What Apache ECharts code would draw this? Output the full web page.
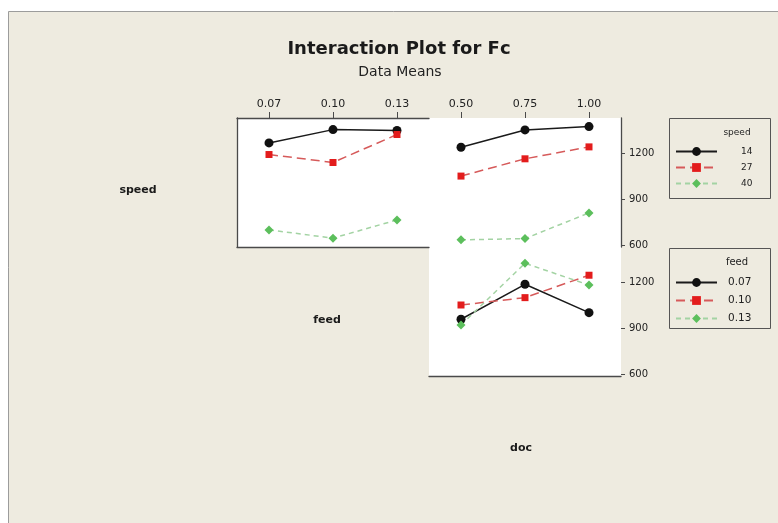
<!DOCTYPE html>
<html>
<head>
<meta charset="utf-8">
<title>Interaction Plot for Fc</title>
<script src="https://cdn.jsdelivr.net/npm/echarts@6/dist/echarts.min.js"></script>
<style>
  html, body { margin: 0; padding: 0; background: #fff; }
  #chart { width: 778px; height: 523px; }
</style>
</head>
<body>
<div id="chart"></div>
<script>
// factor levels
const feedLevels = ['0.07', '0.10', '0.13'];
const docLevels = ['0.50', '0.75', '1.00'];
const speedLevels = ['14', '27', '40'];
const yTicks = [600, 900, 1200];

// Fc means, speed x feed
const fcSpeed14ByFeed = [1269, 1356, 1350];
const fcSpeed27ByFeed = [1193, 1141, 1324];
const fcSpeed40ByFeed = [700, 646, 765];

// Fc means, speed x doc
const fcSpeed14ByDoc = [1241, 1354, 1376];
const fcSpeed27ByDoc = [1052, 1165, 1243];
const fcSpeed40ByDoc = [635, 643, 811];

// Fc means, feed x doc
const fcFeed007ByDoc = [961, 1189, 1004];
const fcFeed010ByDoc = [1054, 1102, 1248];
const fcFeed013ByDoc = [924, 1326, 1184];

const FONT = '"DejaVu Sans", sans-serif';
const AXIS_COLOR = '#4a4a4a';

// one look per level: black solid circle, red dashed square, green dashed diamond
const looks = [
  { line: '#1a1a1a', mark: '#111', type: 'solid', symbol: 'circle', size: 9 },
  { line: '#d65a5a', mark: '#e31c1c', type: [9, 5], symbol: 'rect', size: 7 },
  { line: '#a3d3a3', mark: '#5cbf5c', type: [5, 4], symbol: 'diamond', size: 9 }
];

function makeSeries(name, data, look, xIdx, yIdx) {
  return {
    name: name,
    type: 'line',
    xAxisIndex: xIdx,
    yAxisIndex: yIdx,
    data: data,
    symbol: look.symbol,
    symbolSize: look.size,
    lineStyle: { color: look.line, width: 1.5, type: look.type },
    itemStyle: { color: look.mark },
    emphasis: { disabled: true }
  };
}

const chart = echarts.init(document.getElementById('chart'));

const yRange = { min: 588, max: 1432 };
const plainNumber = function(v) { return String(v); };

const option = {
  backgroundColor: '#ffffff',
  animation: false,
  graphic: [
    {
      type: 'rect', z: -10, silent: true,
      shape: { x: 8.5, y: 11.5, width: 800, height: 600 },
      style: { fill: '#eeebe0', stroke: '#9c9c9c', lineWidth: 1 }
    },
    {
      type: 'text', x: 399, y: 49,
      style: { text: 'Interaction Plot for Fc', font: 'bold 18px ' + FONT, fill: '#1a1a1a', textAlign: 'center', textVerticalAlign: 'middle' }
    },
    {
      type: 'text', x: 400, y: 72,
      style: { text: 'Data Means', font: '14px ' + FONT, fill: '#222', textAlign: 'center', textVerticalAlign: 'middle' }
    },
    {
      type: 'text', x: 138, y: 190,
      style: { text: 'speed', font: 'bold 11px ' + FONT, fill: '#1a1a1a', textAlign: 'center', textVerticalAlign: 'middle' }
    },
    {
      type: 'text', x: 327, y: 320,
      style: { text: 'feed', font: 'bold 11px ' + FONT, fill: '#1a1a1a', textAlign: 'center', textVerticalAlign: 'middle' }
    },
    {
      type: 'text', x: 521, y: 448,
      style: { text: 'doc', font: 'bold 11px ' + FONT, fill: '#1a1a1a', textAlign: 'center', textVerticalAlign: 'middle' }
    },
    // legend frames and headings
    {
      type: 'rect', silent: true,
      shape: { x: 669.5, y: 118.5, width: 101, height: 80 },
      style: { fill: '#eeebe0', stroke: '#555', lineWidth: 1 }
    },
    {
      type: 'text', x: 737, y: 133,
      style: { text: 'speed', font: '9px ' + FONT, fill: '#222', textAlign: 'center', textVerticalAlign: 'middle' }
    },
    {
      type: 'rect', silent: true,
      shape: { x: 669.5, y: 248.5, width: 101, height: 80 },
      style: { fill: '#eeebe0', stroke: '#555', lineWidth: 1 }
    },
    {
      type: 'text', x: 737, y: 262,
      style: { text: 'feed', font: '10px ' + FONT, fill: '#222', textAlign: 'center', textVerticalAlign: 'middle' }
    }
  ],
  legend: [
    {
      data: speedLevels,
      orient: 'vertical',
      left: 675, top: 147,
      padding: 0,
      itemWidth: 41, itemHeight: 11, itemGap: 7,
      selectedMode: false,
      textStyle: { fontFamily: FONT, fontSize: 9, color: '#222', padding: [0, 0, 0, 19] }
    },
    {
      data: feedLevels,
      orient: 'vertical',
      left: 675, top: 277,
      padding: 0,
      itemWidth: 41, itemHeight: 11, itemGap: 7,
      selectedMode: false,
      textStyle: { fontFamily: FONT, fontSize: 10.5, color: '#222', padding: [0, 0, 0, 6] }
    }
  ],
  grid: [
    { left: 237, top: 118, width: 192, height: 129, show: true, backgroundColor: '#fff', borderWidth: 0 },
    { left: 429, top: 118, width: 192, height: 129, show: true, backgroundColor: '#fff', borderWidth: 0 },
    { left: 429, top: 247, width: 192, height: 129.5, show: true, backgroundColor: '#fff', borderWidth: 0 }
  ],
  xAxis: [
    {
      gridIndex: 0, type: 'category', position: 'top', data: feedLevels,
      axisLine: { show: true, onZero: false, lineStyle: { color: AXIS_COLOR, width: 1.3 } },
      axisTick: { show: true, alignWithLabel: true, length: 6, lineStyle: { color: AXIS_COLOR } },
      axisLabel: { margin: 8, fontSize: 11, fontFamily: FONT, color: '#222' },
      splitLine: { show: false }
    },
    {
      gridIndex: 0, type: 'category', position: 'bottom', data: feedLevels,
      axisLine: { show: true, onZero: false, lineStyle: { color: AXIS_COLOR, width: 1.3 } },
      axisTick: { show: false }, axisLabel: { show: false }, splitLine: { show: false }
    },
    {
      gridIndex: 1, type: 'category', position: 'top', data: docLevels,
      axisLine: { show: false, onZero: false },
      axisTick: { show: true, alignWithLabel: true, length: 6, lineStyle: { color: AXIS_COLOR } },
      axisLabel: { margin: 8, fontSize: 11, fontFamily: FONT, color: '#222' },
      splitLine: { show: false }
    },
    {
      gridIndex: 2, type: 'category', position: 'bottom', data: docLevels,
      axisLine: { show: true, onZero: false, lineStyle: { color: AXIS_COLOR, width: 1.3 } },
      axisTick: { show: false }, axisLabel: { show: false }, splitLine: { show: false }
    }
  ],
  yAxis: [
    {
      gridIndex: 0, type: 'value', position: 'left', min: yRange.min, max: yRange.max,
      axisLine: { show: true, lineStyle: { color: AXIS_COLOR, width: 1.3 } },
      axisTick: { show: false }, axisLabel: { show: false }, splitLine: { show: false }
    },
    {
      gridIndex: 1, type: 'value', position: 'right', min: yRange.min, max: yRange.max,
      axisLine: { show: true, lineStyle: { color: AXIS_COLOR, width: 1.3 } },
      axisTick: { show: true, length: 4, customValues: yTicks, lineStyle: { color: AXIS_COLOR } },
      axisLabel: { customValues: yTicks, formatter: plainNumber, margin: 8, fontSize: 10, fontFamily: FONT, color: '#222' },
      splitLine: { show: false }
    },
    {
      gridIndex: 2, type: 'value', position: 'right', min: yRange.min, max: yRange.max,
      axisLine: { show: false },
      axisTick: { show: true, length: 4, customValues: yTicks, lineStyle: { color: AXIS_COLOR } },
      axisLabel: { customValues: yTicks, formatter: plainNumber, margin: 8, fontSize: 10, fontFamily: FONT, color: '#222' },
      splitLine: { show: false }
    }
  ],
  series: [
    makeSeries(speedLevels[0], fcSpeed14ByFeed, looks[0], 0, 0),
    makeSeries(speedLevels[1], fcSpeed27ByFeed, looks[1], 0, 0),
    makeSeries(speedLevels[2], fcSpeed40ByFeed, looks[2], 0, 0),
    makeSeries(speedLevels[0], fcSpeed14ByDoc, looks[0], 2, 1),
    makeSeries(speedLevels[1], fcSpeed27ByDoc, looks[1], 2, 1),
    makeSeries(speedLevels[2], fcSpeed40ByDoc, looks[2], 2, 1),
    makeSeries(feedLevels[0], fcFeed007ByDoc, looks[0], 3, 2),
    makeSeries(feedLevels[1], fcFeed010ByDoc, looks[1], 3, 2),
    makeSeries(feedLevels[2], fcFeed013ByDoc, looks[2], 3, 2)
  ]
};

chart.setOption(option);

window.addEventListener('resize', function() {
  chart.resize();
});
</script>
</body>
</html>
